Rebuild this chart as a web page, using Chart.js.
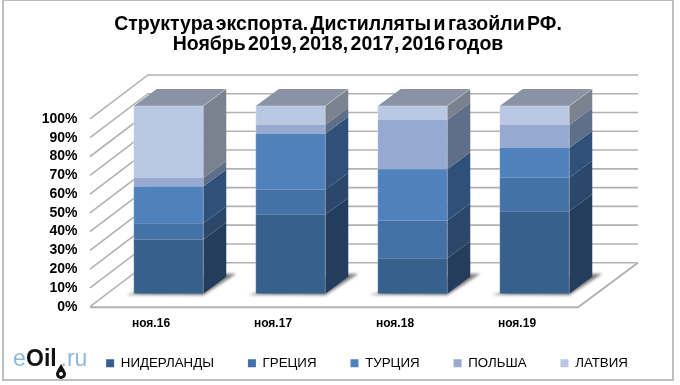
<!DOCTYPE html>
<html>
<head>
<meta charset="utf-8">
<style>
  html, body { margin: 0; background: #fff; }
  #wrap { width: 680px; height: 385px; }
</style>
<script src="https://cdn.jsdelivr.net/npm/chart.js@4"></script>
</head>
<body>
<div id="wrap"><canvas id="exportChart"></canvas></div>
<script>
const categories = ["ноя.16", "ноя.17", "ноя.18", "ноя.19"];
const niderlandy = [28.9, 42.1, 18.9, 43.9];
const gretsiya = [8.6, 13.2, 20.1, 17.8];
const turtsiya = [19.6, 29.9, 27.3, 15.9];
const polsha = [4.5, 4.8, 26.4, 12.3];
const latviya = [38.4, 10.0, 7.3, 10.1];
const titleLines = ["Структура экспорта. Дистилляты и газойли РФ.", "Ноябрь 2019, 2018, 2017, 2016 годов"];

const fontName = "'Liberation Sans', Arial, sans-serif";
const depthX = 23, depthY = 17;
const sideColors = ["#253D5C", "#2B4769", "#2F5078", "#5F6F8A", "#7A8290"];

// back wall, left wall and floor of the 3D box, taken from the y scale
const boxPlugin = {
  id: "box",
  beforeDraw(chart) {
    const ctx = chart.ctx;
    ctx.save();
    ctx.strokeStyle = "#BFBFBF";
    ctx.lineWidth = 2;
    ctx.strokeRect(3, 0, 670, 380);
    ctx.restore();
    ctx.wordSpacing = "-3px"; // the title is the only text with spaces
  },
  beforeDatasetsDraw(chart) {
    const { ctx, chartArea, scales } = chart;
    const frontL = chartArea.left - 17.5, frontR = chartArea.right - 17.5;
    ctx.save();
    ctx.strokeStyle = "#B2B2B2";
    ctx.lineWidth = 1.6;
    scales.y.ticks.forEach((t) => {
      const y = scales.y.getPixelForValue(t.value);
      ctx.beginPath();
      ctx.moveTo(frontL, y + 13);
      ctx.lineTo(frontL + 58, y - 31);
      ctx.lineTo(frontR + 60, y - 31);
      ctx.stroke();
    });
    const y0 = scales.y.getPixelForValue(0);
    ctx.lineWidth = 2;
    ctx.beginPath();
    ctx.moveTo(frontL, y0 + 13.5);
    ctx.lineTo(frontR, y0 + 13.5);
    ctx.lineTo(frontR + 60, y0 - 31);
    ctx.stroke();

    // soft shadows on the floor
    ctx.filter = "blur(1.5px)";
    ctx.fillStyle = "rgba(95,95,95,0.8)";
    chart.getDatasetMeta(0).data.forEach((bar) => {
      const x0 = bar.x - bar.width / 2, x1 = bar.x + bar.width / 2, b = bar.base;
      ctx.beginPath();
      ctx.moveTo(x0 - 8, b + 1);
      ctx.lineTo(x1, b + 1.5);
      ctx.lineTo(x1 + 33, b - 20);
      ctx.lineTo(x1 + 20, b - 20);
      ctx.closePath();
      ctx.fill();
    });
    ctx.restore();
  },
  afterDatasetsDraw(chart) {
    const ctx = chart.ctx;
    const last = chart.data.datasets.length - 1;
    ctx.save();
    chart.data.datasets.forEach((ds, i) => {
      chart.getDatasetMeta(i).data.forEach((bar) => {
        const x0 = bar.x - bar.width / 2, x1 = bar.x + bar.width / 2;
        ctx.fillStyle = sideColors[i];
        ctx.beginPath();
        ctx.moveTo(x1, bar.y);
        ctx.lineTo(x1 + depthX, bar.y - depthY);
        ctx.lineTo(x1 + depthX, bar.base - depthY);
        ctx.lineTo(x1, bar.base);
        ctx.closePath();
        ctx.fill();
        if (i === last) {
          ctx.fillStyle = "#8A93A6";
          ctx.beginPath();
          ctx.moveTo(x0, bar.y);
          ctx.lineTo(x0 + depthX, bar.y - depthY);
          ctx.lineTo(x1 + depthX, bar.y - depthY);
          ctx.lineTo(x1, bar.y);
          ctx.closePath();
          ctx.fill();
        }
      });
    });
    // pale edges round each column
    const first = chart.getDatasetMeta(0).data;
    const top = chart.getDatasetMeta(last).data;
    ctx.strokeStyle = "rgba(255,255,255,0.28)";
    ctx.lineWidth = 1;
    first.forEach((bar, k) => {
      const x0 = bar.x - bar.width / 2, x1 = bar.x + bar.width / 2, t = top[k].y;
      ctx.beginPath();
      ctx.moveTo(x0, bar.base);
      ctx.lineTo(x0, t);
      ctx.lineTo(x1, t);
      ctx.lineTo(x1, bar.base);
      ctx.moveTo(x1, t);
      ctx.lineTo(x1 + depthX, t - depthY);
      ctx.stroke();
    });
    ctx.restore();
  },
  afterLayout(chart) {
    // legend sits right of the logo, a little above where its padding would put it
    chart.legend.left += 54;
    chart.legend.top -= 5;
    chart.titleBlock.left -= 4;
    // x labels hang below the floor, don't let the scale clip them
    chart.scales.x.bottom += 12;
  },
  afterDraw(chart) {
    const ctx = chart.ctx;
    ctx.save();
    ctx.textBaseline = "alphabetic";
    ctx.textAlign = "left";
    ctx.font = "23px " + fontName;
    ctx.fillStyle = "#8DB9DC";
    ctx.fillText("e", 13, 366);
    ctx.fillText(".ru", 60.5, 366);
    ctx.fillStyle = "#111";
    ctx.font = "bold 23px " + fontName;
    ctx.fillText("Oil", 26, 366);
    ctx.beginPath();
    ctx.moveTo(61, 364);
    ctx.quadraticCurveTo(66, 372, 66, 374);
    ctx.arc(61, 374, 5, 0, Math.PI);
    ctx.quadraticCurveTo(56, 372, 61, 364);
    ctx.fill();
    ctx.fillStyle = "#fff";
    ctx.beginPath();
    ctx.arc(61, 374, 2, 0, Math.PI * 2);
    ctx.fill();
    ctx.restore();
  },
};

new Chart(document.getElementById("exportChart"), {
  type: "bar",
  data: {
    labels: categories,
    datasets: [
      { label: "НИДЕРЛАНДЫ", data: niderlandy, backgroundColor: "#37618D" },
      { label: "ГРЕЦИЯ", data: gretsiya, backgroundColor: "#4471A6" },
      { label: "ТУРЦИЯ", data: turtsiya, backgroundColor: "#4F81BD" },
      { label: "ПОЛЬША", data: polsha, backgroundColor: "#95A9D1" },
      { label: "ЛАТВИЯ", data: latviya, backgroundColor: "#B9C7E2" },
    ],
  },
  options: {
    responsive: true,
    maintainAspectRatio: false,
    animation: false,
    datasets: { bar: { categoryPercentage: 1, barPercentage: 0.57, borderWidth: 0 } },
    plugins: {
      tooltip: { enabled: false },
      title: {
        display: true,
        text: titleLines,
        color: "#000",
        font: { family: fontName, size: 19.5, weight: "bold", lineHeight: 1.05 },
        padding: { top: 14, bottom: 51 },
      },
      legend: {
        position: "bottom",
        labels: {
          color: "#000",
          font: { family: fontName, size: 13.3 },
          boxWidth: 8,
          boxHeight: 8,
          padding: 34,
        },
      },
    },
    scales: {
      x: {
        stacked: true,
        grid: { display: false, drawTicks: false },
        border: { display: false },
        afterFit(scale) { scale.height = 34; },
        ticks: {
          labelOffset: -17.5,
          padding: 23,
          maxRotation: 0,
          color: "#000",
          font: { family: fontName, size: 12, weight: "bold" },
        },
      },
      y: {
        stacked: true,
        min: 0,
        max: 100,
        grid: { display: false, drawTicks: false },
        border: { display: false },
        afterFit(scale) { scale.width = 107.5; },
        ticks: {
          stepSize: 10,
          autoSkip: false,
          labelOffset: 13,
          padding: 30,
          color: "#000",
          font: { family: fontName, size: 14, weight: "bold" },
          callback: (v) => v + "%",
        },
      },
      // empty axis, only keeps the plot clear of the right edge
      spacer: {
        position: "right",
        min: 0,
        max: 100,
        grid: { display: false, drawTicks: false },
        border: { display: false },
        ticks: { display: false },
        afterFit(scale) { scale.width = 84.5; },
      },
    },
  },
  plugins: [boxPlugin],
});
</script>
</body>
</html>
